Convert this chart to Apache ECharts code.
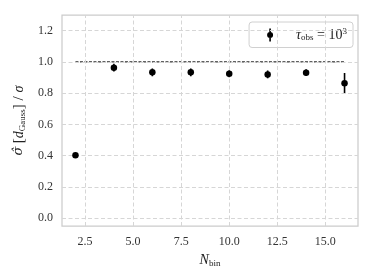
<!DOCTYPE html>
<html><head><meta charset="utf-8">
<script src="https://cdn.jsdelivr.net/npm/echarts@6/dist/echarts.min.js"></script>
<style>html,body{margin:0;padding:0;background:#fff}#c{width:374px;height:280px}</style>
</head><body><div id="c"></div>
<script>
const nBin = [2, 4, 6, 8, 10, 12, 14, 16];
const ratio = [0.402, 0.963, 0.933, 0.933, 0.924, 0.920, 0.931, 0.864];
const ratioErr = [0.004, 0.025, 0.025, 0.025, 0.022, 0.025, 0.022, 0.065];
const refX = [2, 16];
const refY = [1.0, 1.0];
const xTicks = [2.5, 5.0, 7.5, 10.0, 12.5, 15.0];
const yTicks = [0.0, 0.2, 0.4, 0.6, 0.8, 1.0, 1.2];
const xLimits = [1.3, 16.7];
const yLimits = [-0.05, 1.3];

const SERIF = 'Liberation Serif';
const chart = echarts.init(document.getElementById('c'), null, {renderer: 'canvas'});

const gridLineStyle = {color: '#d6d6d6', type: [4, 2.5], width: 1};
const errData = nBin.map((x, i) => [x, ratio[i] - ratioErr[i], ratio[i] + ratioErr[i]]);
const ptsData = nBin.map((x, i) => [x, ratio[i]]);
const refData = refX.map((x, i) => [x, refY[i]]);

const legendIcon = 'path://M3.2,0 L4.8,0 L4.8,13 L3.2,13 Z M1,6.5 A3,3 0 1 1 7,6.5 A3,3 0 1 1 1,6.5 Z';

chart.setOption({
  animation: false,
  backgroundColor: '#ffffff',
  grid: {left: 62, right: 16, top: 15, bottom: 54, show: true, borderColor: '#cccccc', borderWidth: 1.25, backgroundColor: 'transparent'},
  legend: {
    right: 21, top: 22,
    padding: [5, 6, 5, 18],
    borderColor: '#d0d0d0', borderWidth: 1, borderRadius: 3,
    backgroundColor: '#ffffff',
    itemWidth: 8, itemHeight: 13,
    data: [{name: 'tau', icon: legendIcon, itemStyle: {color: '#000', opacity: 1}}],
    formatter: () => '{g|}{t|τ}{s|obs}{n| = 10}{p|3}',
    textStyle: {
      fontFamily: SERIF, fontSize: 13, color: '#222',
      rich: {
        g: {width: 17},
        t: {fontFamily: SERIF, fontStyle: 'italic', fontSize: 14, color: '#222'},
        s: {fontFamily: SERIF, fontSize: 9, color: '#222', padding: [6, 0, 0, 0]},
        n: {fontFamily: SERIF, fontSize: 14, color: '#222'},
        p: {fontFamily: SERIF, fontSize: 9, color: '#222', padding: [0, 0, 7, 0]}
      }
    }
  },
  xAxis: {
    type: 'value', min: xLimits[0], max: xLimits[1],
    axisLine: {show: false}, axisTick: {show: false}, splitLine: {show: false},
    axisLabel: {customValues: xTicks, formatter: v => v.toFixed(1), fontFamily: SERIF, fontSize: 12, color: '#333', margin: 10},
    name: '{i|N}{s|bin}', nameLocation: 'middle', nameGap: 20,
    nameTextStyle: {rich: {
      i: {fontFamily: SERIF, fontStyle: 'italic', fontSize: 14, color: '#222'},
      s: {fontFamily: SERIF, fontSize: 9, color: '#222', padding: [7, 0, 0, 0]}
    }}
  },
  yAxis: {
    type: 'value', min: yLimits[0], max: yLimits[1],
    axisLine: {show: false}, axisTick: {show: false}, splitLine: {show: false},
    axisLabel: {customValues: yTicks, formatter: v => v.toFixed(1), fontFamily: SERIF, fontSize: 12, color: '#333', margin: 9},
    name: '{h|σ\u0302} {n|[}{i|d}{s|Gauss}{n|] / }{i|σ}', nameLocation: 'middle', nameGap: 29, nameRotate: 90,
    nameTextStyle: {rich: {
      h: {fontFamily: 'DejaVu Serif', fontStyle: 'italic', fontSize: 13, color: '#222'},
      i: {fontFamily: SERIF, fontStyle: 'italic', fontSize: 14, color: '#222'},
      n: {fontFamily: SERIF, fontSize: 15, color: '#222'},
      s: {fontFamily: SERIF, fontSize: 9, color: '#222', padding: [7, 0, 0, 0]}
    }}
  },
  series: [
    {
      name: 'grid', type: 'line', data: [], silent: true, z: 1,
      markLine: {
        silent: true, symbol: 'none', label: {show: false}, lineStyle: gridLineStyle,
        data: xTicks.map(v => ({xAxis: v})).concat(yTicks.map(v => ({yAxis: v})))
      }
    },
    {
      name: 'ref', type: 'line', data: refData, symbol: 'none', z: 3,
      lineStyle: {color: '#000', width: 1, type: [3, 1.5]}
    },
    {
      name: 'tau', type: 'custom', z: 4, data: errData,
      itemStyle: {color: '#000'},
      renderItem: (params, api) => {
        const p0 = api.coord([api.value(0), api.value(1)]);
        const p1 = api.coord([api.value(0), api.value(2)]);
        return {type: 'line', shape: {x1: p0[0], y1: p0[1], x2: p1[0], y2: p1[1]}, style: {stroke: '#000', lineWidth: 1.6}};
      }
    },
    {
      name: 'pts', type: 'scatter', z: 5, data: ptsData, symbol: 'circle', symbolSize: 6.5,
      itemStyle: {color: '#000', opacity: 1}
    }
  ]
});
</script>
</body></html>
